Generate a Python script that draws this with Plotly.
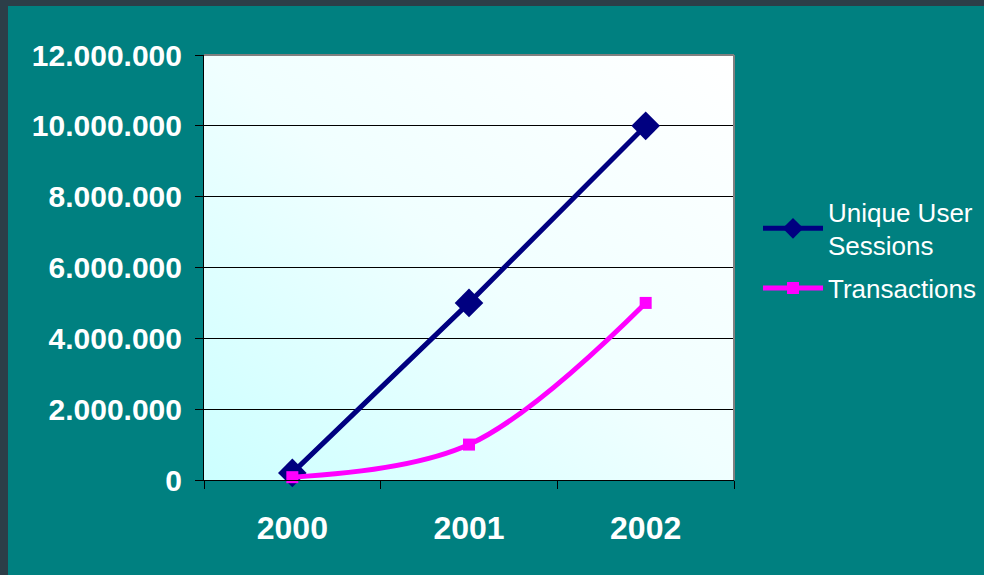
import base64
import plotly.graph_objects as go

years = ["2000", "2001", "2002"]
unique_sessions = [200000, 5000000, 10000000]
transactions = [80000, 1000000, 5000000]
y_ticks = [0, 2000000, 4000000, 6000000, 8000000, 10000000, 12000000]

TEAL = "#008080"
W, H = 984, 575
L, R, T, B = 204, 250, 55, 95

svg = ('<svg xmlns="http://www.w3.org/2000/svg" width="100" height="100" preserveAspectRatio="none">'
       '<defs><linearGradient id="g" x1="0" y1="1" x2="1" y2="0">'
       '<stop offset="0" stop-color="#ccffff"/><stop offset="0.5" stop-color="#f0ffff"/>'
       '<stop offset="1" stop-color="#ffffff"/></linearGradient></defs>'
       '<rect width="100" height="100" fill="url(#g)"/></svg>')
svg_uri = "data:image/svg+xml;base64," + base64.b64encode(svg.encode()).decode()

fig = go.Figure()
fig.add_trace(go.Scatter(
    x=years, y=unique_sessions, name="Unique User<br>Sessions", legendgroup="a",
    mode="lines+markers", line=dict(color="#000080", width=5),
    marker=dict(symbol="diamond", size=22, color="#000080"), cliponaxis=False))
fig.add_trace(go.Scatter(
    x=years, y=transactions, name="Transactions", legendgroup="b",
    mode="lines+markers", line=dict(color="#ff00ff", width=5, shape="spline", smoothing=1),
    marker=dict(symbol="square", size=12, color="#ff00ff"), cliponaxis=False))

pw = W - L - R
ph = H - T - B
def px_x(p):
    return (p - L) / pw
def px_y(p):
    return (H - B - p) / ph

shapes = [
    dict(type="rect", xref="paper", yref="paper", x0=px_x(0), x1=px_x(8), y0=px_y(H), y1=px_y(0),
         fillcolor="#2c3e48", line=dict(width=0), layer="below"),
    dict(type="rect", xref="paper", yref="paper", x0=px_x(0), x1=px_x(W), y0=px_y(6), y1=px_y(0),
         fillcolor="#2c3e48", line=dict(width=0), layer="below"),
    dict(type="line", xref="paper", yref="paper", x0=0, x1=1, y0=1, y1=1,
         line=dict(color="#808080", width=2), layer="above"),
    dict(type="line", xref="paper", yref="paper", x0=1, x1=1, y0=0, y1=1,
         line=dict(color="#808080", width=2), layer="above"),
]

fig.update_layout(
    width=W, height=H,
    margin=dict(l=L, r=R, t=T, b=B),
    paper_bgcolor=TEAL, plot_bgcolor="rgba(0,0,0,0)",
    separators=",.",
    font=dict(family="Arial, Liberation Sans", color="white"),
    images=[dict(source=svg_uri, xref="paper", yref="paper", x=0, y=1, sizex=1, sizey=1,
                 sizing="stretch", layer="below")],
    shapes=shapes,
    xaxis=dict(type="category", range=[-0.5, 2.5], tickson="boundaries",
               ticks="outside", ticklen=8, tickcolor="black", tickwidth=1,
               showline=True, linecolor="black", linewidth=1, showgrid=False,
               tickfont=dict(size=32, family="Arial, Liberation Sans", color="white", weight="bold"),
               ticklabelstandoff=20),
    yaxis=dict(range=[0, 12000000], tickvals=y_ticks, tickformat=",d",
               ticks="outside", ticklen=8, tickcolor="black", tickwidth=1,
               showline=True, linecolor="black", linewidth=1,
               showgrid=True, gridcolor="black", gridwidth=1, zeroline=False,
               tickfont=dict(size=30, family="Arial, Liberation Sans", color="white", weight="bold"),
               ticklabelstandoff=7),
    legend=dict(xref="container", yref="container", x=758 / W, y=1 - 188 / H,
                xanchor="left", yanchor="top",
                font=dict(size=26, family="Arial, Liberation Sans", color="white"),
                bgcolor="rgba(0,0,0,0)", itemwidth=60, tracegroupgap=6),
    showlegend=True,
)

fig.write_html("out.html")
